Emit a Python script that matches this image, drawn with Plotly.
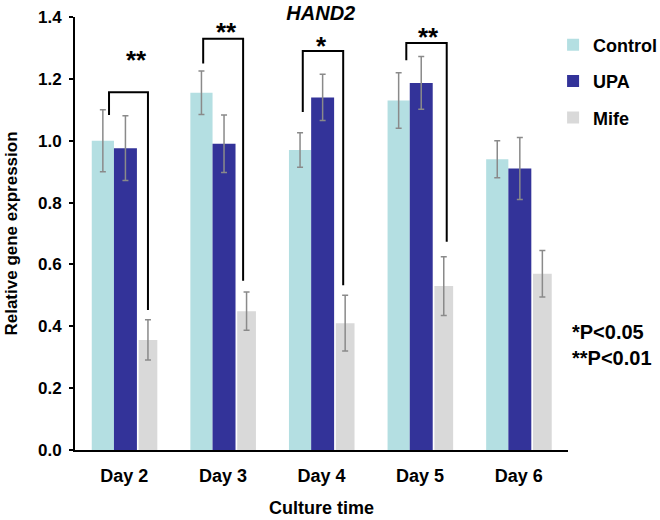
import plotly.graph_objects as go

days = ["Day 2", "Day 3", "Day 4", "Day 5", "Day 6"]
control = [1.00, 1.155, 0.97, 1.13, 0.94]
control_err = [0.10, 0.07, 0.056, 0.09, 0.06]
upa = [0.976, 0.99, 1.14, 1.187, 0.91]
upa_err = [0.105, 0.093, 0.075, 0.085, 0.10]
mife = [0.356, 0.449, 0.41, 0.53, 0.57]
mife_err = [0.065, 0.062, 0.09, 0.095, 0.075]

# significance brackets: category index, left leg bottom, bracket top, right leg bottom, label, label height
sig_idx = [0, 1, 2, 3]
sig_left = [1.083, 1.25, 1.093, 1.26]
sig_top = [1.157, 1.33, 1.29, 1.316]
sig_right = [0.453, 0.547, 0.533, 0.673]
sig_label = ["**", "**", "*", "**"]
sig_label_y = [1.274, 1.364, 1.319, 1.348]

# bracket leg / label horizontal placement (fraction of a category slot)
leg_l = [-0.155, -0.20, -0.19, -0.14]
leg_r = [0.24, 0.205, 0.22, 0.27]
lab_x = [0.12, 0.04, 0.005, 0.09]

FONT = "Arial, 'Liberation Sans', sans-serif"
err_style = dict(type="data", color="#8a8a8a", thickness=1.5, width=3)

fig = go.Figure()
fig.add_trace(go.Bar(x=days, y=control, name="<b>Control</b>", marker_color="#b4dfe2",
                     marker_line_width=0, offset=-0.33, width=0.225, legendgroup="a",
                     error_y=dict(array=control_err, **err_style)))
fig.add_trace(go.Bar(x=days, y=upa, name="<b>UPA</b>", marker_color="#333399",
                     marker_line_width=0, offset=-0.105, width=0.233, legendgroup="b",
                     error_y=dict(array=upa_err, **err_style)))
fig.add_trace(go.Bar(x=days, y=mife, name="<b>Mife</b>", marker_color="#d9d9d9",
                     marker_line_width=0, offset=0.145, width=0.19, legendgroup="c",
                     error_y=dict(array=mife_err, **err_style)))

for k, i in enumerate(sig_idx):
    xl, xr = i + leg_l[k], i + leg_r[k]
    fig.add_shape(type="path",
                  path=f"M {xl} {sig_left[k]} L {xl} {sig_top[k]} L {xr} {sig_top[k]} L {xr} {sig_right[k]}",
                  line=dict(color="black", width=2), xref="x", yref="y")
    fig.add_annotation(x=i + lab_x[k], y=sig_label_y[k], text=f"<b>{sig_label[k]}</b>",
                       showarrow=False, yanchor="middle", yshift=-4,
                       font=dict(size=26, color="black", family=FONT))

fig.add_annotation(xref="paper", yref="paper", x=1.004, y=0.2425, xanchor="left",
                   yanchor="middle", align="left", showarrow=False,
                   text="<b>*P<0.05<br>**P<0.01</b>",
                   font=dict(size=20, color="black", family=FONT))

fig.update_layout(
    width=660, height=520,
    margin=dict(l=75, r=92, t=17, b=70, autoexpand=False),
    plot_bgcolor="white", paper_bgcolor="white",
    barmode="group",
    title=dict(text="<b><i>HAND2</i></b>", x=0.486, xanchor="center", xref="container",
               y=0.975, yref="container", yanchor="middle",
               font=dict(size=20, color="black", family=FONT)),
    font=dict(family=FONT, color="black"),
    legend=dict(x=0.838, y=0.949, xref="container", yref="container",
                xanchor="left", yanchor="top",
                font=dict(size=18, color="black", family=FONT),
                itemwidth=30, tracegroupgap=10, bgcolor="rgba(0,0,0,0)"),
    showlegend=True,
)
fig.update_xaxes(
    showline=True, linecolor="black", linewidth=2, ticks="", automargin=False,
    tickfont=dict(size=18, color="black", family=FONT),
    tickprefix="<b>", ticksuffix="</b>", ticklabelstandoff=8,
    title=dict(text="<b>Culture time</b>", font=dict(size=18, color="black", family=FONT),
               standoff=17),
    range=[-0.5, 4.5], showgrid=False,
)
fig.update_yaxes(
    range=[0, 1.4], dtick=0.2, tickformat=".1f", automargin=False,
    showline=True, linecolor="black", linewidth=2, ticks="outside", ticklen=4,
    tickcolor="black", tickwidth=2, ticklabelstandoff=4,
    tickfont=dict(size=17, color="black", family=FONT),
    tickprefix="<b>", ticksuffix="</b>",
    title=dict(text="<b>Relative gene expression</b>",
               font=dict(size=17, color="black", family=FONT), standoff=16),
    showgrid=False, zeroline=False,
)

fig.write_html("out.html", config={"displayModeBar": False},
               post_script="document.body.style.margin='0';")
